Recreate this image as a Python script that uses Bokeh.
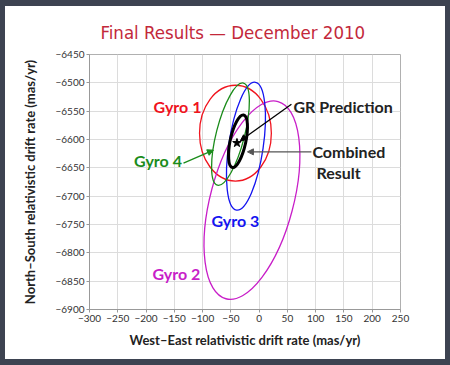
import math
from bokeh.plotting import figure
from bokeh.models import FixedTicker, Label, Arrow, NormalHead, ColumnDataSource
from bokeh.embed import file_html
from bokeh.resources import INLINE

# ---- data ----
x_ticks = [-300, -250, -200, -150, -100, -50, 0, 50, 100, 150, 200, 250]
y_ticks = [-6900, -6850, -6800, -6750, -6700, -6650, -6600, -6550, -6500, -6450]

names = ["Gyro 1", "Gyro 2", "Gyro 3", "Gyro 4", "Combined Result"]
ew_center = [-41.9, -12.7, -23.3, -50.7, -37.4]          # mas/yr
ns_center = [-6588.8, -6707.0, -6611.8, -6590.6, -6603.0]  # mas/yr
minor_axis = [127.0, 147.0, 61.0, 50.0, 27.6]              # full width
major_axis = [169.0, 360.0, 228.0, 186.0, 94.8]            # full height
tilt_deg = [0.0, -14.8, -8.4, -14.3, -12.2]
colors = ["#f0141e", "#c81ec8", "#1414f0", "#1b8c1b", "#000000"]
widths = [1.3, 1.3, 1.3, 1.3, 3.0]

gr_ew = [-39.2]
gr_ns = [-6606.1]

FONT = "Lato"

p = figure(width=440, height=353, x_range=(-300, 250), y_range=(-6900, -6450),
           output_backend="svg", toolbar_location=None,
           min_border_left=84, min_border_right=45, min_border_top=48, min_border_bottom=50,
           background_fill_color="white", border_fill_color="white",
           title="Final Results \u2014 December 2010")
p.styles = {"outline": "6px solid #3d4351", "margin-left": "5px", "margin-top": "6px"}
p.outline_line_color = "#b0b0b0"

p.title.align = "left"
p.title.offset = 11
p.title.text_font = "'DejaVu Sans Condensed', sans-serif"
p.title.text_font_style = "normal"
p.title.text_font_size = "18.5px"
p.title.text_color = "#c3283a"
p.title.standoff = 23

for ax, ticks in ((p.xaxis[0], x_ticks), (p.yaxis[0], y_ticks)):
    ax.ticker = FixedTicker(ticks=ticks)
    ax.major_label_overrides = {v: ("\u2212" + str(abs(v)) if v < 0 else str(v)) for v in ticks}
    ax.minor_tick_line_color = None
    ax.major_tick_in = 0
    ax.major_tick_out = 3
    ax.major_tick_line_color = "#999999"
    ax.axis_line_color = "#999999"
    ax.major_label_text_font = FONT
    ax.major_label_text_font_size = "10px"
    ax.major_label_text_color = "#333333"
    ax.major_label_standoff = 2
    ax.axis_label_text_font = FONT
    ax.axis_label_text_font_style = "bold"
    ax.axis_label_text_font_size = "13px"
    ax.axis_label_text_color = "#222222"

p.xaxis.axis_label = "West\u2013East relativistic drift rate (mas/yr)"
p.yaxis.axis_label = "North\u2013South relativistic drift rate (mas/yr)"
p.xaxis.axis_label_standoff = 7
p.yaxis.axis_label_standoff = 14

p.grid.grid_line_color = "#dcdcdc"
p.grid.grid_line_width = 1

src = ColumnDataSource(dict(x=ew_center, y=ns_center, w=minor_axis, h=major_axis,
                            a=[math.radians(t) for t in tilt_deg], c=colors, lw=widths))
p.ellipse(x="x", y="y", width="w", height="h", angle="a", source=src,
          fill_color=None, line_color="c", line_width="lw")

p.scatter(gr_ew, gr_ns, marker="star", size=9, color="black")

# arrows
p.add_layout(Arrow(x_start=-133.8, y_start=-6641.7, x_end=-80.8, y_end=-6618.8,
                   line_color="#1b8c1b", line_width=1.3,
                   end=NormalHead(size=6, fill_color="#1b8c1b", line_color="#1b8c1b")))
p.add_layout(Arrow(x_start=57.1, y_start=-6537.7, x_end=gr_ew[0] + 6, y_end=gr_ns[0] + 4,
                   line_color="black", line_width=1.3,
                   end=NormalHead(size=6, fill_color="black", line_color="black")))
p.add_layout(Arrow(x_start=92.5, y_start=-6621.8, x_end=-20.7, y_end=-6621.8,
                   line_color="#555555", line_width=1.3,
                   end=NormalHead(size=6, fill_color="#555555", line_color="#555555")))

def lab(x, y, t, c, align="center", size="16px", style="bold", font=FONT):
    p.add_layout(Label(x=x, y=y, text=t, text_color=c, text_align=align,
                       text_baseline="middle", text_font=font,
                       text_font_size=size, text_font_style=style))

lab(-144.4, -6541.2, "Gyro 1", colors[0])
lab(-178.9, -6636.5, "Gyro 4", colors[3])
lab(-41.9, -6742.3, "Gyro 3", colors[2])
lab(-146.2, -6835.8, "Gyro 2", colors[1])
lab(60.7, -6541.2, "GR Prediction", "#222222", align="left")
lab(94.3, -6620.6, "Combined", "#222222", align="left")
lab(101.3, -6657.6, "Result", "#222222", align="left")

open("out.html", "w").write(file_html(p, INLINE))
